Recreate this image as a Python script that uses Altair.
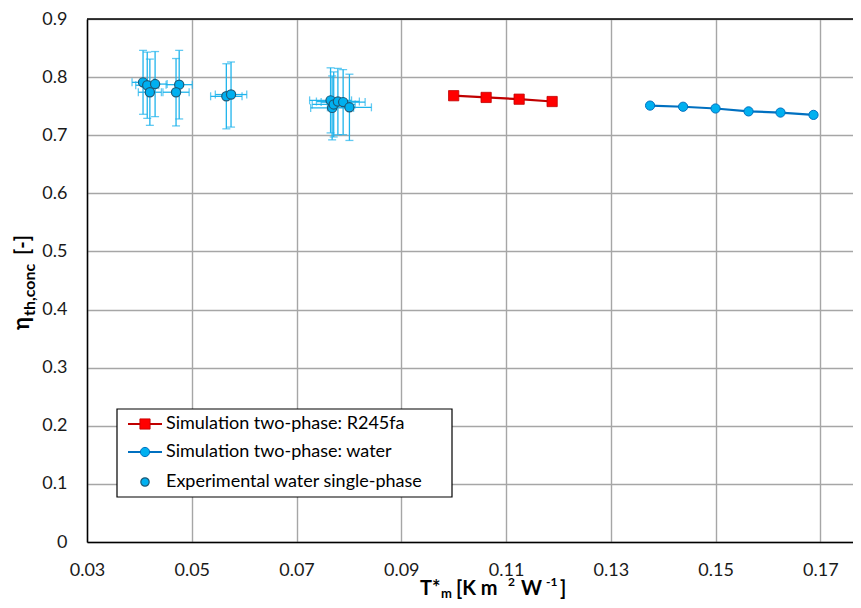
import altair as alt
import pandas as pd

# ---------------- data ----------------
r245_x = [0.1000, 0.1062, 0.1125, 0.1188]
r245_y = [0.768, 0.765, 0.762, 0.758]

water_x = [0.1375, 0.1438, 0.1500, 0.1563, 0.1624, 0.1687]
water_y = [0.751, 0.749, 0.746, 0.741, 0.739, 0.735]

exp_x = [0.0407, 0.0415, 0.0430, 0.0420, 0.0476, 0.0470, 0.0566, 0.0575,
         0.0765, 0.0768, 0.0771, 0.0779, 0.0789, 0.0801]
exp_y = [0.791, 0.786, 0.788, 0.774, 0.787, 0.774, 0.767, 0.770,
         0.760, 0.747, 0.753, 0.758, 0.757, 0.748]
exp_xerr = [0.0021, 0.0022, 0.0023, 0.0022, 0.0025, 0.0025, 0.0030, 0.0030,
            0.0040, 0.0041, 0.0041, 0.0041, 0.0042, 0.0042]
exp_yerr = [0.055, 0.057, 0.056, 0.057, 0.059, 0.058, 0.056, 0.056,
            0.056, 0.055, 0.056, 0.057, 0.056, 0.057]

series_names = ["Simulation two-phase: R245fa",
                "Simulation two-phase: water",
                "Experimental water single-phase"]

x_ticks = [0.03, 0.05, 0.07, 0.09, 0.11, 0.13, 0.15, 0.17]
y_ticks = [0, 0.1, 0.2, 0.3, 0.4, 0.5, 0.6, 0.7, 0.8, 0.9]

# ---------------- tables ----------------
df_r = pd.DataFrame({"x": r245_x, "y": r245_y})
df_w = pd.DataFrame({"x": water_x, "y": water_y})
df_e = pd.DataFrame({"x": exp_x, "y": exp_y, "xe": exp_xerr, "ye": exp_yerr})
df_e["xlo"] = df_e["x"] - df_e["xe"]
df_e["xhi"] = df_e["x"] + df_e["xe"]
df_e["ylo"] = df_e["y"] - df_e["ye"]
df_e["yhi"] = df_e["y"] + df_e["ye"]

W, H = 766, 523
FONT = "Lato"
RED_LINE, RED_FILL = "#C00000", "#FF0000"
BLUE_LINE, BLUE_FILL = "#0070C0", "#00B0F0"
ERR = "#1FB4EC"

xs = alt.Scale(domain=[0.03, 0.17624], nice=False, zero=False)
ys = alt.Scale(domain=[0, 0.9], nice=False)
X = alt.X("x:Q", scale=xs, title=None,
          axis=alt.Axis(values=x_ticks, format=".2f", grid=True, ticks=False,
                        labelFlush=False, labelPadding=19, domainColor="black",
                        domainWidth=1.5, gridColor="#A6A6A6", gridWidth=1.4))
Y = alt.Y("y:Q", scale=ys, title=None,
          axis=alt.Axis(values=y_ticks, format=".1~f", grid=True, ticks=False,
                        labelFlush=False, labelPadding=20, domainColor="black",
                        domainWidth=1.5, gridColor="#A6A6A6", gridWidth=1.4))

# error bars
err_v = alt.Chart(df_e).mark_rule(color=ERR, strokeWidth=1.3).encode(
    x=X, y=alt.Y("ylo:Q", scale=ys), y2="yhi:Q")
err_h = alt.Chart(df_e).mark_rule(color=ERR, strokeWidth=1.3).encode(
    x=alt.X("xlo:Q", scale=xs), x2="xhi:Q", y=Y)
cap_lo = alt.Chart(df_e).mark_tick(color=ERR, orient="horizontal", size=8, thickness=1.3).encode(
    x=X, y=alt.Y("ylo:Q", scale=ys))
cap_hi = alt.Chart(df_e).mark_tick(color=ERR, orient="horizontal", size=8, thickness=1.3).encode(
    x=X, y=alt.Y("yhi:Q", scale=ys))
cap_l = alt.Chart(df_e).mark_tick(color=ERR, orient="vertical", size=8, thickness=1.3).encode(
    x=alt.X("xlo:Q", scale=xs), y=Y)
cap_r = alt.Chart(df_e).mark_tick(color=ERR, orient="vertical", size=8, thickness=1.3).encode(
    x=alt.X("xhi:Q", scale=xs), y=Y)
exp_pts = alt.Chart(df_e).mark_point(shape="circle", filled=True, size=85, fill=BLUE_FILL,
                                     stroke="#1D5A78", strokeWidth=1.2, opacity=1).encode(x=X, y=Y)

r_line = alt.Chart(df_r).mark_line(color=RED_LINE, strokeWidth=2.2).encode(x=X, y=Y)
r_pts = alt.Chart(df_r).mark_point(shape="square", filled=True, size=105, fill=RED_FILL,
                                   stroke=RED_LINE, strokeWidth=0.8, opacity=1).encode(x=X, y=Y)
w_line = alt.Chart(df_w).mark_line(color=BLUE_LINE, strokeWidth=2.2).encode(x=X, y=Y)
w_pts = alt.Chart(df_w).mark_point(shape="circle", filled=True, size=85, fill=BLUE_FILL,
                                   stroke=BLUE_LINE, strokeWidth=1, opacity=1).encode(x=X, y=Y)

one = pd.DataFrame({"k": [0]})

top_border = alt.Chart(one).mark_rule(color="black", strokeWidth=1.5).encode(
    x=alt.value(0), x2=alt.value(W), y=alt.value(0))


def txt(text, x, y, size, angle=0, bold=True):
    return alt.Chart(one).mark_text(text=text, font=FONT, fontSize=size,
                                    fontWeight="bold" if bold else "normal",
                                    align="left", baseline="alphabetic",
                                    angle=angle, color="#000000").encode(
        x=alt.value(x), y=alt.value(y))


# axis titles built from pieces (sub/superscripts)
ytitle = [
    txt("η", -58, 311, 22, 270),
    txt("th,conc", -52, 297, 16, 270),
    txt("[-]", -58, 236, 20, 270),
]
xtitle = [
    txt("T*", 333, 576, 20),
    txt("m", 354, 579, 13),
    txt("[K m", 369, 576, 20),
    txt("2", 421, 567, 12),
    txt("W", 434, 576, 20),
    txt("-1", 459, 567, 12),
    txt("]", 473, 576, 20),
]

# legend
leg_box = alt.Chart(one).mark_rect(fill="white", stroke="black", strokeWidth=1.2).encode(
    x=alt.value(30), x2=alt.value(365), y=alt.value(390), y2=alt.value(478))
legend = [leg_box]
rows = [405, 433, 463]
legend += [
    alt.Chart(one).mark_rule(color=RED_LINE, strokeWidth=2.2).encode(
        x=alt.value(41), x2=alt.value(75), y=alt.value(rows[0])),
    alt.Chart(one).mark_point(shape="square", filled=True, size=105, fill=RED_FILL,
                              stroke=RED_LINE, strokeWidth=0.8, opacity=1).encode(
        x=alt.value(58), y=alt.value(rows[0])),
    alt.Chart(one).mark_rule(color=BLUE_LINE, strokeWidth=2.2).encode(
        x=alt.value(41), x2=alt.value(75), y=alt.value(rows[1])),
    alt.Chart(one).mark_point(shape="circle", filled=True, size=85, fill=BLUE_FILL,
                              stroke=BLUE_LINE, strokeWidth=1, opacity=1).encode(
        x=alt.value(58), y=alt.value(rows[1])),
    alt.Chart(one).mark_point(shape="circle", filled=True, size=70, fill=BLUE_FILL,
                              stroke="#1D5A78", strokeWidth=1.2, opacity=1).encode(
        x=alt.value(58), y=alt.value(rows[2])),
]
for name, ry in zip(series_names, rows):
    legend.append(alt.Chart(one).mark_text(text=name, font=FONT, fontSize=18, align="left",
                                           baseline="middle", color="#000000").encode(
        x=alt.value(79), y=alt.value(ry)))

chart = alt.layer(
    err_v, err_h, cap_lo, cap_hi, cap_l, cap_r, exp_pts,
    r_line, r_pts, w_line, w_pts, top_border,
    *legend, *ytitle, *xtitle
).properties(
    width=W, height=H,
    autosize=alt.AutoSizeParams(type="none"),
    padding={"left": 79, "top": 11, "right": 0, "bottom": 58},
).configure_view(stroke=None).configure_axis(
    labelFont=FONT, labelFontSize=18, labelColor="#1a1a1a"
)

chart.save("out.html", embed_options={"renderer": "svg", "actions": False})
